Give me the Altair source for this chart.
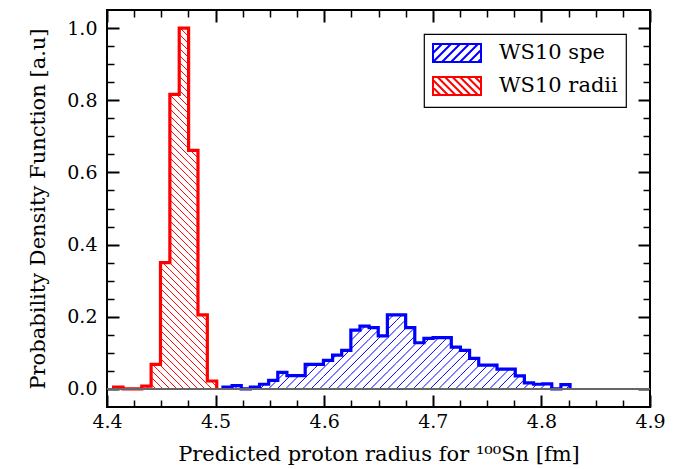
import altair as alt
import numpy as np
import pandas as pd

# ---------------- data ----------------
blue_label = "WS10 spe"
red_label = "WS10 radii"

blue_start = 4.5068
blue_width = 0.00841
blue_heights = [0.005, 0.009, 0.0, 0.005, 0.013, 0.024, 0.046, 0.037, 0.037, 0.068,
                0.068, 0.079, 0.094, 0.107, 0.163, 0.174, 0.170, 0.147, 0.205, 0.205,
                0.170, 0.128, 0.140, 0.142, 0.142, 0.116, 0.107, 0.085, 0.066, 0.066,
                0.055, 0.055, 0.036, 0.017, 0.013, 0.014, 0.0, 0.012]

red_start = 4.4061
red_width = 0.00863
red_heights = [0.005, 0.0, 0.0, 0.008, 0.068, 0.350, 0.816, 1.000, 0.661, 0.205, 0.022]

x_domain = [4.4, 4.9]
y_domain = [-0.05, 1.05]
x_major = [4.4, 4.5, 4.6, 4.7, 4.8, 4.9]
y_major = [0.0, 0.2, 0.4, 0.6, 0.8, 1.0]
x_ticks = [round(4.4 + 0.025 * i, 4) for i in range(21)]
y_ticks = [round(0.05 * i, 4) for i in range(21)]

x_title = "Predicted proton radius for \u00b9\u2070\u2070Sn [fm]"
y_title = "Probability Density Function [a.u]"

BLUE = "#0000ff"
RED = "#ff0000"
W, H = 543, 397
FONT = "DejaVu Serif"

sx = W / (x_domain[1] - x_domain[0])
sy = H / (y_domain[1] - y_domain[0])


def outline(start, width, heights):
    n = len(heights)
    edges = [start + i * width for i in range(n + 1)]
    pts = [(edges[0], 0.0)]
    for i, h in enumerate(heights):
        pts.append((edges[i], h))
        pts.append((edges[i + 1], h))
    pts.append((edges[-1], 0.0))
    df = pd.DataFrame(pts, columns=["x", "y"])
    df["o"] = range(len(df))
    return df


def hatch(start, width, heights, spacing, direction):
    n = len(heights)
    u_lo = (start - x_domain[0]) * sx
    u_hi = (start + n * width - x_domain[0]) * sx
    hmax = max(heights) * sy
    ks = np.arange(np.floor((u_lo - hmax) / spacing) - 1,
                   np.ceil((u_hi + hmax) / spacing) + 2) * spacing
    rows = []
    for i, h in enumerate(heights):
        if h <= 0:
            continue
        u0 = (start + i * width - x_domain[0]) * sx
        u1 = u0 + width * sx
        hp = h * sy
        for k in ks:
            if direction == "/":
                a, b = max(u0, k), min(u1, k + hp)
                if b > a:
                    rows.append((a, a - k, b, b - k))
            else:
                a, b = max(u0, k - hp), min(u1, k)
                if b > a:
                    rows.append((a, k - a, b, k - b))
    df = pd.DataFrame(rows, columns=["u1", "v1", "u2", "v2"])
    df["x"] = x_domain[0] + df.u1 / sx
    df["x2"] = x_domain[0] + df.u2 / sx
    df["y"] = df.v1 / sy
    df["y2"] = df.v2 / sy
    return df[["x", "x2", "y", "y2"]]


# legend patch path (units of 10 px): spans x in [xl, xr], y in [-hh, hh]
def legend_path(direction, spacing, xl=-1.0, xr=3.8, hh=0.9):
    parts = ["M%.3f,%.3fH%.3fV%.3fH%.3fZ" % (xl, -hh, xr, hh, xl)]
    c = xl - 2 * hh
    while c < xr:
        if direction == "/":
            xa, ya, xb, yb = c, hh, c + 2 * hh, -hh
        else:
            xa, ya, xb, yb = c, -hh, c + 2 * hh, hh
        dx = xb - xa
        t0 = max(0.0, (xl - xa) / dx)
        t1 = min(1.0, (xr - xa) / dx)
        if t1 - t0 > 0.03:
            p0 = (xa + t0 * dx, ya + t0 * (yb - ya))
            p1 = (xa + t1 * dx, ya + t1 * (yb - ya))
            parts.append("M%.3f,%.3fL%.3f,%.3f" % (p0[0], p0[1], p1[0], p1[1]))
        c += spacing
    return "".join(parts)


blue_line = outline(blue_start, blue_width, blue_heights)
red_line = outline(red_start, red_width, red_heights)
blue_hatch = hatch(blue_start, blue_width, blue_heights, 8.5, "/")
red_hatch = hatch(red_start, red_width, red_heights, 7.0, "\\")

legend_df = pd.DataFrame({
    "series": [blue_label] * len(blue_heights) + [red_label] * len(red_heights),
    "x": [blue_start + (i + 0.5) * blue_width for i in range(len(blue_heights))]
         + [red_start + (i + 0.5) * red_width for i in range(len(red_heights))],
    "y": blue_heights + red_heights,
})
base_df = pd.DataFrame({"y": [0.0]})

xs = alt.Scale(domain=x_domain, nice=False, zero=False)
ys = alt.Scale(domain=y_domain, nice=False, zero=False)

x_major_test = "abs(datum.value*10 - round(datum.value*10)) < 0.001"
y_major_test = "abs(datum.value*5 - round(datum.value*5)) < 0.001"


def tick_axis(orient, offset, values, test):
    return alt.Axis(orient=orient, offset=offset, values=values, labels=False,
                    domain=False, grid=False, title=None, ticks=True,
                    tickColor="black",
                    tickSize={"condition": {"test": test, "value": 12}, "value": 7},
                    tickWidth={"condition": {"test": test, "value": 2}, "value": 1.5})


x_label_axis = alt.Axis(orient="bottom", values=x_major, format=".1f", ticks=False,
                        tickSize=0, domain=False, grid=False, labelFlush=False,
                        labelOverlap=False, labelPadding=5, title=x_title,
                        titlePadding=12)
y_label_axis = alt.Axis(orient="left", values=y_major, format=".1f", ticks=False,
                        tickSize=0, domain=False, grid=False, labelFlush=False,
                        labelOverlap=False, labelPadding=10, title=y_title,
                        titlePadding=18)

l_bhatch = alt.Chart(blue_hatch).mark_rule(color=BLUE, strokeWidth=1).encode(
    x=alt.X("x:Q", scale=xs, axis=x_label_axis), x2="x2:Q",
    y=alt.Y("y:Q", scale=ys, axis=y_label_axis), y2="y2:Q")

l_rhatch = alt.Chart(red_hatch).mark_rule(color=RED, strokeWidth=1).encode(
    x=alt.X("x:Q", scale=xs, axis=tick_axis("top", -H, x_ticks, x_major_test)), x2="x2:Q",
    y=alt.Y("y:Q", scale=ys, axis=tick_axis("right", -W, y_ticks, y_major_test)), y2="y2:Q")

l_bline = alt.Chart(blue_line).mark_line(color=BLUE, strokeWidth=3.2, strokeJoin="miter").encode(
    x=alt.X("x:Q", scale=xs, axis=tick_axis("bottom", -H, x_ticks, x_major_test)),
    y=alt.Y("y:Q", scale=ys, axis=tick_axis("left", -W, y_ticks, y_major_test)),
    order="o:Q")

l_rline = alt.Chart(red_line).mark_line(color=RED, strokeWidth=3.2, strokeJoin="miter").encode(
    x=alt.X("x:Q", scale=xs, axis=None),
    y=alt.Y("y:Q", scale=ys, axis=None),
    order="o:Q")

l_base = alt.Chart(base_df).mark_rule(color="#666666", strokeWidth=2).encode(
    y=alt.Y("y:Q", scale=ys, axis=None))

series_domain = [blue_label, red_label]
shape_range = [legend_path("/", 0.9), legend_path("\\", 0.75)]

l_legend = alt.Chart(legend_df).mark_point(filled=False, opacity=0, size=400,
                                           strokeWidth=2).encode(
    x=alt.X("x:Q", scale=xs, axis=None),
    y=alt.Y("y:Q", scale=ys, axis=None),
    color=alt.Color("series:N", scale=alt.Scale(domain=series_domain, range=[BLUE, RED]),
                    legend=alt.Legend(title=None)),
    shape=alt.Shape("series:N", scale=alt.Scale(domain=series_domain, range=shape_range),
                    legend=alt.Legend(title=None)),
)

chart = alt.layer(l_bhatch, l_rhatch, l_bline, l_rline, l_base, l_legend).resolve_axis(
    x="independent", y="independent"
).properties(
    width=W, height=H,
    autosize=alt.AutoSizeParams(type="none"),
    padding={"left": 99, "top": 2, "right": 16, "bottom": 60},
    background="white",
).configure_view(
    stroke="black", strokeWidth=2
).configure_axis(
    labelFont=FONT, titleFont=FONT, labelFontSize=19, titleFontSize=21,
    titleFontWeight="normal", labelColor="black", titleColor="black",
).configure_legend(
    orient="top-right", offset=24, strokeColor="black", strokeWidth=1.2,
    fillColor="white", padding=8, labelFont=FONT, labelFontSize=21,
    labelColor="black", symbolSize=400, symbolStrokeWidth=2, symbolOpacity=1,
    labelOffset=45, rowPadding=7, cornerRadius=0,
)

chart.save("out.html", embed_options={"renderer": "svg", "actions": False})
